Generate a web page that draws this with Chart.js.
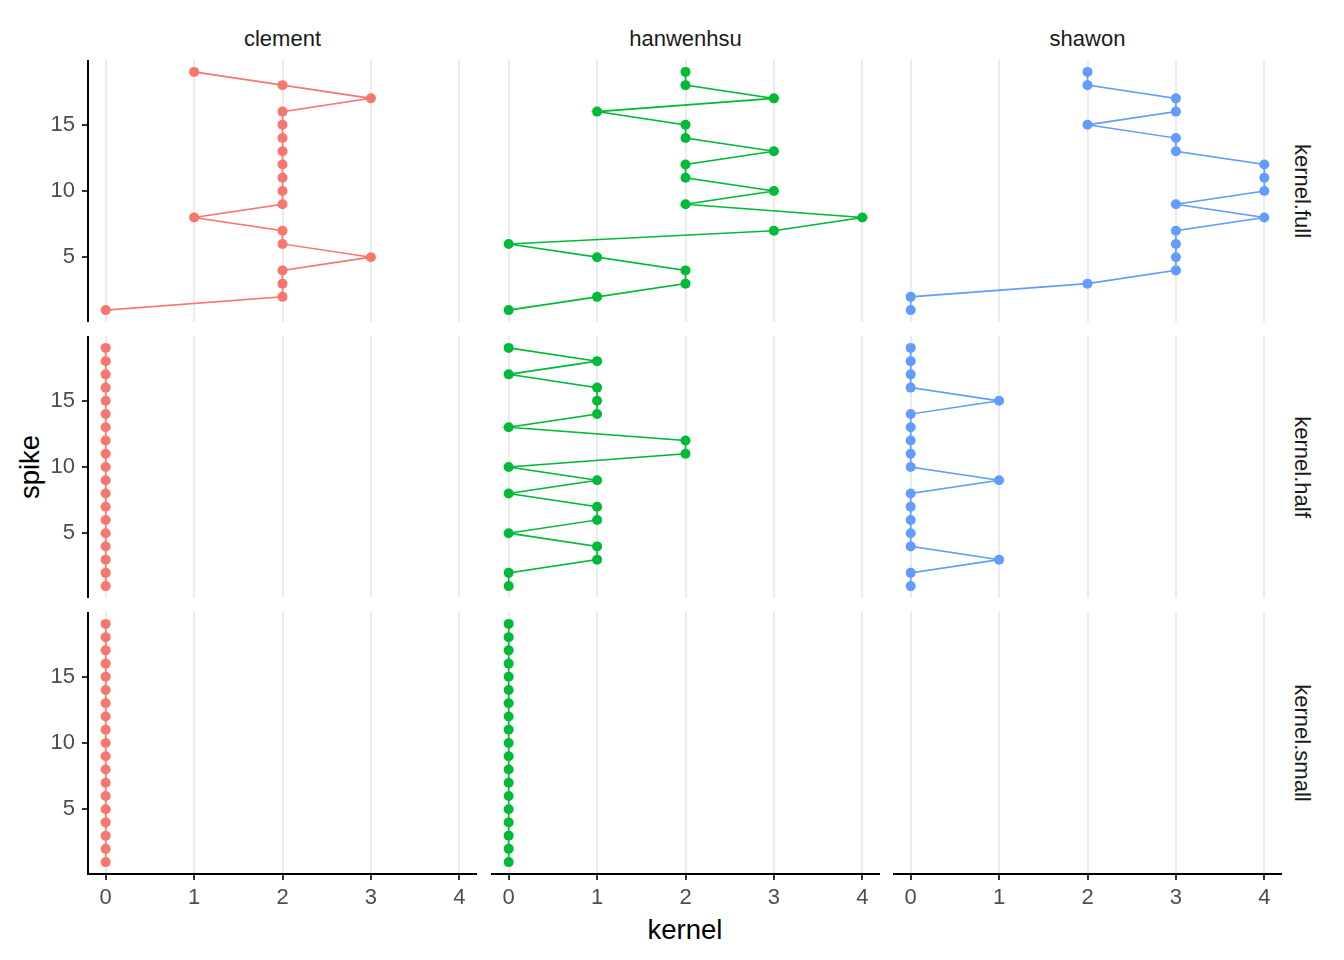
<!DOCTYPE html>
<html lang="en">
    <head>
        <meta charset="utf-8"/>
        <script src="https://cdn.jsdelivr.net/npm/chart.js"></script>
        <title> Kernel by spike </title>
        <style>
            body {
                margin: 0;
                width: 1344px;
                height: 960px;
                position: relative;
                background: white;
                font-family: "Liberation Sans", Arial, sans-serif;
                overflow: hidden;
            }
            .panel {
                position: absolute;
            }
            .strip {
                position: absolute;
                font-size: 22px;
                color: #1a1a1a;
                white-space: nowrap;
                transform: translate(-50%, -50%);
            }
            .strip.right {
                transform: translate(-50%, -50%) rotate(90deg);
            }
            .title {
                position: absolute;
                font-size: 27.5px;
                color: #000;
                white-space: nowrap;
                transform: translate(-50%, -50%);
            }
        </style>
    </head>

    <body>
        <div class="title" style="left: 685px; top: 930px">kernel</div>
        <div class="title" style="left: 30px; top: 467px; transform: translate(-50%, -50%) rotate(-90deg)">spike</div>

        <script>
            // data, spike 1 .. 19 from bottom to top
            const spikes = [1, 2, 3, 4, 5, 6, 7, 8, 9, 10, 11, 12, 13, 14, 15, 16, 17, 18, 19];
            const users = ['clement', 'hanwenhsu', 'shawon'];
            const kernels = ['kernel.full', 'kernel.half', 'kernel.small'];
            const xTicks = [0, 1, 2, 3, 4];
            const yTicks = [5, 10, 15];

            const clementFull   = [0, 2, 2, 2, 3, 2, 2, 1, 2, 2, 2, 2, 2, 2, 2, 2, 3, 2, 1];
            const hanwenhsuFull = [0, 1, 2, 2, 1, 0, 3, 4, 2, 3, 2, 2, 3, 2, 2, 1, 3, 2, 2];
            const shawonFull    = [0, 0, 2, 3, 3, 3, 3, 4, 3, 4, 4, 4, 3, 3, 2, 3, 3, 2, 2];

            const clementHalf   = [0, 0, 0, 0, 0, 0, 0, 0, 0, 0, 0, 0, 0, 0, 0, 0, 0, 0, 0];
            const hanwenhsuHalf = [0, 0, 1, 1, 0, 1, 1, 0, 1, 0, 2, 2, 0, 1, 1, 1, 0, 1, 0];
            const shawonHalf    = [0, 0, 1, 0, 0, 0, 0, 0, 1, 0, 0, 0, 0, 0, 1, 0, 0, 0, 0];

            const clementSmall   = [0, 0, 0, 0, 0, 0, 0, 0, 0, 0, 0, 0, 0, 0, 0, 0, 0, 0, 0];
            const hanwenhsuSmall = [0, 0, 0, 0, 0, 0, 0, 0, 0, 0, 0, 0, 0, 0, 0, 0, 0, 0, 0];
            const shawonSmall    = [];

            const grid = [
                [clementFull, hanwenhsuFull, shawonFull],
                [clementHalf, hanwenhsuHalf, shawonHalf],
                [clementSmall, hanwenhsuSmall, shawonSmall]
            ];
            const colors = ['#F8766D', '#00BA38', '#619CFF'];

            // layout of the facets
            const lefts = [88, 491, 893];
            const tops = [60, 336, 612];
            const panelW = 389;
            const panelH = 262;
            const yAxisW = 88;
            const xAxisH = 48;

            Chart.defaults.font.family = '"Liberation Sans", Arial, sans-serif';
            Chart.defaults.font.size = 22;
            Chart.defaults.color = '#4d4d4d';

            // column strips
            users.forEach((u, c) => {
                const d = document.createElement('div');
                d.className = 'strip';
                d.style.left = (lefts[c] + panelW / 2) + 'px';
                d.style.top = '39px';
                d.textContent = u;
                document.body.appendChild(d);
            });
            // row strips
            kernels.forEach((k, r) => {
                const d = document.createElement('div');
                d.className = 'strip right';
                d.style.left = '1302px';
                d.style.top = (tops[r] + panelH / 2) + 'px';
                d.textContent = k;
                document.body.appendChild(d);
            });

            function noPad(s) {
                s.paddingTop = 0;
                s.paddingBottom = 0;
                s.paddingLeft = 0;
                s.paddingRight = 0;
            }

            for (let r = 0; r < 3; r++) {
                for (let c = 0; c < 3; c++) {
                    const showY = c === 0;
                    const showX = r === 2;
                    const box = document.createElement('div');
                    box.className = 'panel';
                    box.style.left = (lefts[c] - (showY ? yAxisW : 0)) + 'px';
                    box.style.top = tops[r] + 'px';
                    box.style.width = (panelW + (showY ? yAxisW : 0)) + 'px';
                    box.style.height = (panelH + (showX ? xAxisH : 0)) + 'px';
                    const cv = document.createElement('canvas');
                    box.appendChild(cv);
                    document.body.appendChild(box);

                    const vals = grid[r][c];
                    const pts = vals.map((v, i) => ({ x: v, y: spikes[i] }));

                    new Chart(cv, {
                        type: 'scatter',
                        data: {
                            datasets: [{
                                data: pts,
                                showLine: true,
                                borderColor: colors[c],
                                backgroundColor: colors[c],
                                borderWidth: 1.6,
                                pointRadius: 5,
                                pointBorderWidth: 0,
                                pointHoverRadius: 5
                            }]
                        },
                        options: {
                            responsive: true,
                            maintainAspectRatio: false,
                            animation: false,
                            layout: { padding: 0, autoPadding: false },
                            plugins: { legend: { display: false }, tooltip: { enabled: false } },
                            scales: {
                                x: {
                                    type: 'linear',
                                    min: -0.2,
                                    max: 4.2,
                                    afterBuildTicks: s => { s.ticks = xTicks.map(v => ({ value: v })); },
                                    afterFit: s => { s.height = showX ? xAxisH : 0; noPad(s); },
                                    grid: {
                                        color: '#ebebeb',
                                        lineWidth: 2,
                                        drawTicks: showX,
                                        tickLength: 6,
                                        tickColor: '#333333'
                                    },
                                    border: { display: showX, color: '#000', width: 2 },
                                    ticks: { display: showX, padding: 5, color: '#4d4d4d', maxRotation: 0 }
                                },
                                y: {
                                    type: 'linear',
                                    display: showY,
                                    min: 0.1,
                                    max: 19.9,
                                    afterBuildTicks: s => { s.ticks = yTicks.map(v => ({ value: v })); },
                                    afterFit: s => { if (showY) s.width = yAxisW; noPad(s); },
                                    grid: {
                                        drawOnChartArea: false,
                                        drawTicks: true,
                                        tickLength: 6,
                                        color: '#333333',
                                        lineWidth: 2
                                    },
                                    border: { display: true, color: '#000', width: 2 },
                                    ticks: { padding: 7, color: '#4d4d4d' }
                                }
                            }
                        }
                    });
                }
            }
        </script>
    </body>
</html>
